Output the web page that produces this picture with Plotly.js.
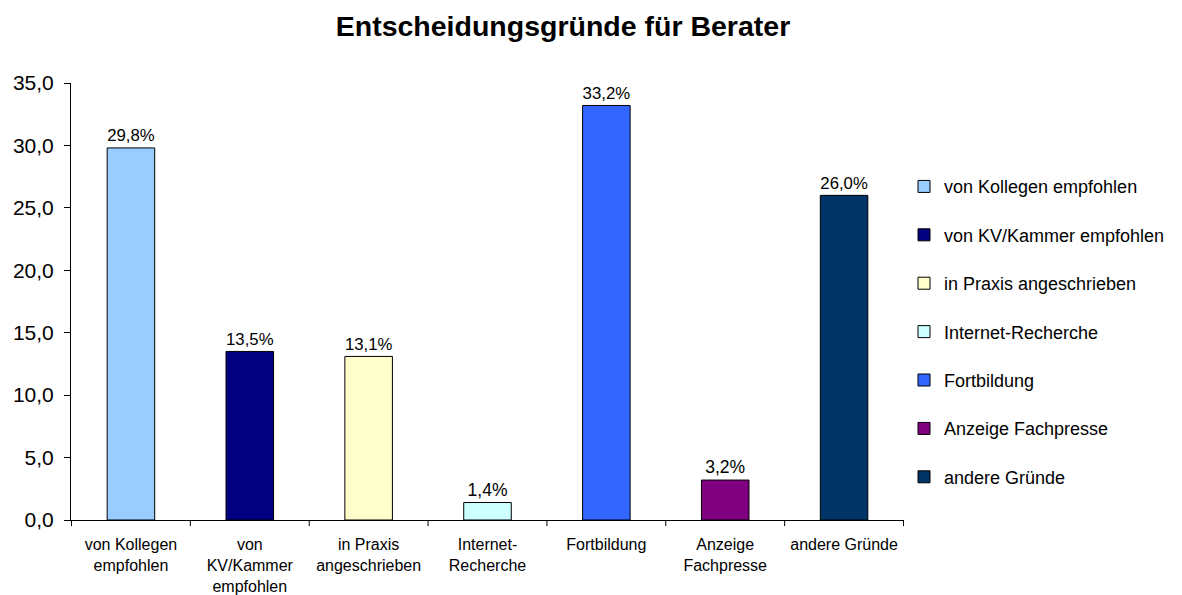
<!DOCTYPE html>
<html>
<head>
<meta charset="utf-8">
<script src="https://cdn.plot.ly/plotly-3.0.1.min.js"></script>
<style>html,body{margin:0;padding:0;background:#fff;}#chart{width:1182px;height:595px;}</style>
</head>
<body>
<div id="chart"></div>
<script>
const categories = ["von Kollegen empfohlen", "von KV/Kammer empfohlen", "in Praxis angeschrieben", "Internet-Recherche", "Fortbildung", "Anzeige Fachpresse", "andere Gründe"];
const tickLabels = ["von Kollegen<br>empfohlen", "von<br>KV/Kammer<br>empfohlen", "in Praxis<br>angeschrieben", "Internet-<br>Recherche", "Fortbildung", "Anzeige<br>Fachpresse", "andere Gründe"];
const values = [29.8, 13.5, 13.1, 1.4, 33.2, 3.2, 26.0];
const colors = ["#99CCFF", "#000080", "#FFFFCC", "#CCFFFF", "#3366FF", "#800080", "#003366"];

const FONT = 'Liberation Sans, Arial, sans-serif';

const traces = categories.map((c, i) => ({
  type: 'bar',
  name: c,
  x: [c],
  y: [values[i]],
  legendgroup: 'g' + i,
  marker: {color: colors[i], line: {color: '#000', width: 1}},
  texttemplate: '%{y:.1f}%',
  textposition: 'outside',
  cliponaxis: false,
  textfont: {family: FONT, size: 17.5, color: '#000'},
  hoverinfo: 'skip'
}));

const boundaries = [];
for (let i = 0; i <= categories.length; i++) boundaries.push(i - 0.5);

const layout = {
  width: 1182, height: 595,
  margin: {l: 71, r: 275, t: 83, b: 75},
  paper_bgcolor: '#fff', plot_bgcolor: '#fff',
  separators: ',.',
  font: {family: FONT, color: '#000'},
  title: {text: '<b>Entscheidungsgründe für Berater</b>', font: {size: 28.5, color: '#000'}, xref: 'container', x: 563 / 1182, xanchor: 'center', y: 0.957, yanchor: 'middle'},
  barmode: 'overlay',
  bargap: 0.6,
  showlegend: true,
  legend: {x: 1.0, xanchor: 'left', y: 0.805, yanchor: 'top', font: {size: 18, color: '#000'}, traceorder: 'grouped', tracegroupgap: 22, itemwidth: 30},
  xaxis: {
    type: 'category', tickmode: 'array', tickvals: categories, ticktext: tickLabels,
    showline: true, linecolor: '#000', linewidth: 1, showgrid: false,
    ticks: '', tickfont: {size: 16, color: '#000'}, zeroline: false, ticklabelstandoff: 10
  },
  yaxis: {
    range: [0, 35], dtick: 5, tickformat: '.1f', showline: true, linecolor: '#000', linewidth: 1,
    ticks: 'outside', ticklen: 6, tickcolor: '#000', showgrid: false, zeroline: false,
    tickfont: {size: 21, color: '#000'}, ticklabelstandoff: 6
  },
  shapes: boundaries.map(b => ({
    type: 'line', xref: 'x', yref: 'paper', x0: b, x1: b, y0: 0, y1: -0.014,
    line: {color: '#000', width: 1}
  }))
};

Plotly.newPlot('chart', traces, layout, {displayModeBar: false, staticPlot: true});
</script>
</body>
</html>
